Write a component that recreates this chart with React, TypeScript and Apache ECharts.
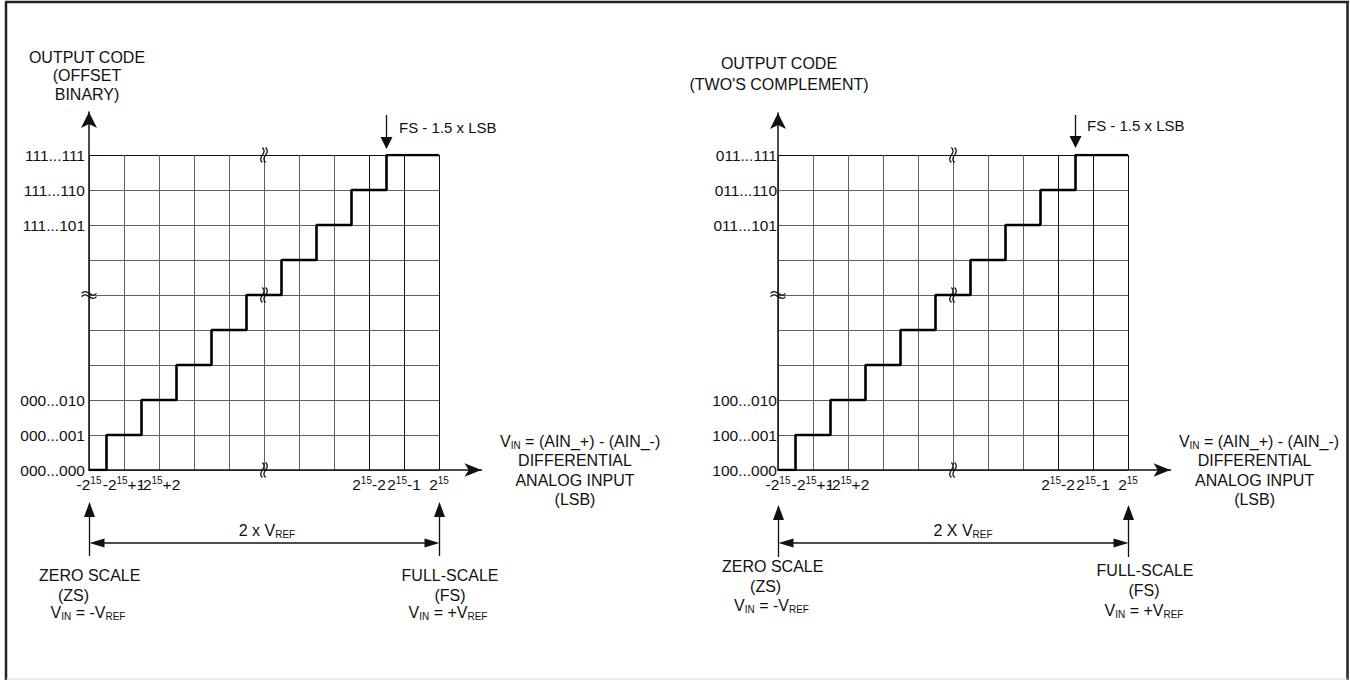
import React, { useEffect, useRef } from 'react';
import * as echarts from 'echarts';

// ---------- data ----------
const inputTicks = [0, 1, 2, 3, 4, 5, 6, 7, 8, 9, 10];
const inputLabels = ['-2{s|15}', '-2{s|15}+1', '-2{s|15}+2', '', '', '', '', '', '2{s|15}-2', '2{s|15}-1', '2{s|15}'];
const codeTicks = [0, 1, 2, 3, 4, 5, 6, 7, 8, 9];
const offsetBinaryCodes = ['000...000', '000...001', '000...010', '', '', '', '', '111...101', '111...110', '111...111'];
const twosComplementCodes = ['100...000', '100...001', '100...010', '', '', '', '', '011...101', '011...110', '011...111'];
const stairInput = [0, 0.5, 1.5, 2.5, 3.5, 4.5, 5.5, 6.5, 7.5, 8.5, 10];
const stairCode = [0, 1, 2, 3, 4, 5, 6, 7, 8, 9, 9];
const fsMarkerInput = 8.5;
const axisBreakCode = 5;
const columnBreakInput = 5;
const columnBreakCodes = [9, 5, 0];

// ---------- layout / style ----------
const FONT = '"Liberation Sans", Arial, Helvetica, sans-serif';
const FS = 16;
const TICK_FS = 15.5;
const INK = '#111';
const GRIDC = '#606060';
const CELL = 35;
const GRID_TOP = 155;
const NX = 10;
const NY = 9;

const RICH = {
  sub: { fontSize: 10, verticalAlign: 'bottom', lineHeight: 10, fontFamily: FONT, fill: INK, color: INK },
  s: { fontSize: 10, verticalAlign: 'top', lineHeight: 10, fontFamily: FONT, fill: INK, color: INK },
};

const panels = [
  {
    left: 89, codes: offsetBinaryCodes, yMargin: 4,
    title: 'OUTPUT CODE\n(OFFSET\nBINARY)', titleX: 87, titleY: 75.6, titleLH: 18.5,
    fsTextX: 399, fsTextY: 127, fsTop: 115, fsTip: 149,
    vinX: 500, vinY: 441, vinAlign: 'left', diffX: 575,
    spanText: '2 x V{sub|REF}', spanX: 267,
    zs: [[89.7, 575], [73.5, 595], [88, 612.7]],
    fsl: [[450, 575], [450, 595], [448, 612.7]],
    arrowTop: 502, arrowBottom: 556, axisTipX: 490, axisTipY: 104,
  },
  {
    left: 778, codes: twosComplementCodes, yMargin: 1,
    title: "OUTPUT CODE\n(TWO'S COMPLEMENT)", titleX: 779, titleY: 73.5, titleLH: 21,
    fsTextX: 1087, fsTextY: 125, fsTop: 115, fsTip: 148,
    vinX: 1259, vinY: 441.7, vinAlign: 'center', diffX: 1254.6,
    spanText: '2 X V{sub|REF}', spanX: 963,
    zs: [[772.7, 566.7], [765.6, 586.7], [771.5, 605]],
    fsl: [[1145, 570.7], [1144, 590], [1144, 610]],
    arrowTop: 505, arrowBottom: 557, axisTipX: 1179, axisTipY: 105,
  },
];

function txt(text: string, x: number, y: number, align = 'center', extra: any = {}) {
  return {
    type: 'text', x, y, silent: true, z: 100,
    style: {
      text, align, verticalAlign: 'middle', fontSize: FS, fontFamily: FONT,
      fill: INK, lineHeight: 18, rich: RICH, ...extra,
    },
  };
}

function seg(x1: number, y1: number, x2: number, y2: number, w = 1.3, color = INK) {
  return { type: 'line', silent: true, z: 100, shape: { x1, y1, x2, y2 }, style: { stroke: color, lineWidth: w } };
}

function head(tipX: number, tipY: number, dir: 'up' | 'down' | 'left' | 'right', len: number, half: number) {
  let pts: number[][] = [];
  if (dir === 'up') pts = [[tipX, tipY], [tipX - half, tipY + len], [tipX + half, tipY + len]];
  if (dir === 'down') pts = [[tipX, tipY], [tipX - half, tipY - len], [tipX + half, tipY - len]];
  if (dir === 'left') pts = [[tipX, tipY], [tipX + len, tipY - half], [tipX + len, tipY + half]];
  if (dir === 'right') pts = [[tipX, tipY], [tipX - len, tipY - half], [tipX - len, tipY + half]];
  return { type: 'polygon', silent: true, z: 100, shape: { points: pts }, style: { fill: INK } };
}

function vBreak(cx: number, cy: number) {
  return [-1.6, 1.6].map((dx) => ({
    type: 'bezierCurve', silent: true, z: 110,
    shape: { x1: cx + dx, y1: cy - 7.5, x2: cx + dx, y2: cy + 7.5, cpx1: cx + dx + 6, cpy1: cy - 2, cpx2: cx + dx - 6, cpy2: cy + 2 },
    style: { stroke: INK, lineWidth: 1.3, fill: null },
  }));
}

function hBreak(cx: number, cy: number) {
  return [-1.6, 1.6].map((dy) => ({
    type: 'bezierCurve', silent: true, z: 110,
    shape: { x1: cx - 7.5, y1: cy + dy, x2: cx + 7.5, y2: cy + dy, cpx1: cx - 2, cpy1: cy + dy - 6, cpx2: cx + 2, cpy2: cy + dy + 6 },
    style: { stroke: INK, lineWidth: 1.3, fill: null },
  }));
}

function buildOption() {
  const grid: any[] = [];
  const xAxis: any[] = [];
  const yAxis: any[] = [];
  const series: any[] = [];
  const graphic: any[] = [];
  const bottomY = GRID_TOP + NY * CELL;

  panels.forEach((p, i) => {
    const gA = 2 * i;
    const gB = 2 * i + 1;
    const tipLenX = 17;
    const tipLenY = 16;
    grid.push({ left: p.left, top: GRID_TOP, width: NX * CELL, height: NY * CELL, containLabel: false, outerBoundsMode: 'none' });
    grid.push({
      left: p.left, top: p.axisTipY + tipLenY / 2,
      width: p.axisTipX - tipLenX / 2 - p.left, height: bottomY - (p.axisTipY + tipLenY / 2),
      containLabel: false, outerBoundsMode: 'none',
    });

    xAxis.push({
      gridIndex: gA, type: 'value', min: 0, max: NX, interval: 1,
      axisLine: { show: false }, axisTick: { show: false },
      axisLabel: {
        show: true, margin: 5, fontSize: TICK_FS, fontFamily: FONT, color: INK, lineHeight: 18,
        formatter: (v: number) => inputLabels[inputTicks.indexOf(Math.round(v))] || '',
        rich: RICH, hideOverlap: false, showMinLabel: true, showMaxLabel: true,
      },
      splitLine: { show: true, lineStyle: { width: 1, color: inputTicks.map((t) => (t >= 8 ? INK : GRIDC)) } },
    });
    yAxis.push({
      gridIndex: gA, type: 'value', min: 0, max: NY, interval: 1,
      axisLine: { show: false }, axisTick: { show: false },
      axisLabel: {
        show: true, margin: p.yMargin, fontSize: TICK_FS, fontFamily: FONT, color: INK,
        formatter: (v: number) => p.codes[codeTicks.indexOf(Math.round(v))] || '',
        showMinLabel: true, showMaxLabel: true,
      },
      splitLine: { show: true, lineStyle: { width: 1, color: codeTicks.map((t) => (t === NY ? INK : GRIDC)) } },
    });
    xAxis.push({
      gridIndex: gB, type: 'value', min: 0, max: 1,
      axisLine: { show: true, onZero: false, symbol: ['none', 'arrow'], symbolSize: [10, tipLenX], lineStyle: { color: INK, width: 1.5 } },
      axisTick: { show: false }, axisLabel: { show: false }, splitLine: { show: false },
    });
    yAxis.push({
      gridIndex: gB, type: 'value', min: 0, max: 1,
      axisLine: { show: true, onZero: false, symbol: ['none', 'arrow'], symbolSize: [12, tipLenY], lineStyle: { color: INK, width: 1.5 } },
      axisTick: { show: false }, axisLabel: { show: false }, splitLine: { show: false },
    });

    series.push({
      type: 'line', xAxisIndex: gA, yAxisIndex: gA, step: 'end', symbol: 'none', silent: true, z: 10,
      lineStyle: { color: '#000', width: 2.6 },
      data: stairInput.map((x, k) => [x, stairCode[k]]),
    });

    // titles and labels
    graphic.push(txt(p.title, p.titleX, p.titleY, 'center', { lineHeight: p.titleLH }));
    graphic.push(txt('FS - 1.5 x LSB', p.fsTextX, p.fsTextY, 'left', { fontSize: 15 }));
    graphic.push(txt('V{sub|IN} = (AIN_+) - (AIN_-)', p.vinX, p.vinY, p.vinAlign));
    graphic.push(txt('DIFFERENTIAL\nANALOG INPUT\n(LSB)', p.diffX, 480, 'center', { lineHeight: 19.5 }));
    graphic.push(txt(p.spanText, p.spanX, 530, 'center'));
    graphic.push(txt('ZERO SCALE', p.zs[0][0], p.zs[0][1]));
    graphic.push(txt('(ZS)', p.zs[1][0], p.zs[1][1]));
    graphic.push(txt('V{sub|IN} = -V{sub|REF}', p.zs[2][0], p.zs[2][1]));
    graphic.push(txt('FULL-SCALE', p.fsl[0][0], p.fsl[0][1]));
    graphic.push(txt('(FS)', p.fsl[1][0], p.fsl[1][1]));
    graphic.push(txt('V{sub|IN} = +V{sub|REF}', p.fsl[2][0], p.fsl[2][1]));

    // FS - 1.5 LSB marker arrow
    const fsx = p.left + fsMarkerInput * CELL;
    graphic.push(seg(fsx, p.fsTop, fsx, p.fsTip - 8, 1.3));
    graphic.push(head(fsx, p.fsTip, 'down', 12, 6));

    // zero-scale / full-scale arrows and span
    const x0 = p.left + 0.5;
    const x1 = p.left + NX * CELL + 0.5;
    [x0, x1].forEach((x) => {
      graphic.push(seg(x, p.arrowBottom, x, p.arrowTop + 8, 1.3));
      graphic.push(head(x, p.arrowTop, 'up', 15, 5.5));
    });
    graphic.push(seg(x0 + 8, 543, x1 - 8, 543, 1.3));
    graphic.push(head(x0, 543, 'left', 15, 4.5));
    graphic.push(head(x1, 543, 'right', 15, 4.5));

    // axis break marks
    graphic.push(...hBreak(p.left, GRID_TOP + (NY - axisBreakCode) * CELL));
    columnBreakCodes.forEach((c) => {
      graphic.push(...vBreak(p.left + columnBreakInput * CELL, GRID_TOP + (NY - c) * CELL));
    });
  });

  // frame
  graphic.push(seg(6, 2, 6, 680, 2.5, '#222'));
  graphic.push(seg(5, 2, 1349, 2, 2.5, '#222'));
  graphic.push(seg(1347.5, 2, 1347.5, 680, 2.5, '#222'));
  graphic.push(seg(6, 679, 1348, 679, 1.2, '#d8d8d8'));

  return {
    animation: false,
    backgroundColor: '#fff',
    grid, xAxis, yAxis, series, graphic,
  };
}

export default function App() {
  const ref = useRef<HTMLDivElement>(null);
  useEffect(() => {
    document.body.style.margin = '0';
    const chart = echarts.init(ref.current as HTMLDivElement, null, { renderer: 'svg' });
    chart.setOption(buildOption() as any);
    return () => chart.dispose();
  }, []);
  return <div ref={ref} style={{ width: 1350, height: 680, background: '#fff' }} />;
}
